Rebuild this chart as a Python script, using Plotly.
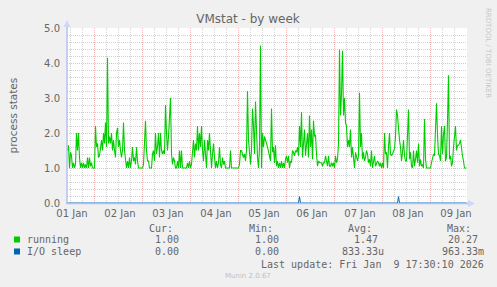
import pandas as pd
import plotly.graph_objects as go

# ---------------- data ----------------
running = [
    1.5, 1.65, 1.0, 1.45, 1.35, 1.0, 1.15, 1.0, 1.1, 2.0,
    1.5, 2.0, 1.3, 1.0, 1.15, 1.0, 1.15, 1.0, 1.1, 1.0,
    1.3, 1.0, 1.3, 1.05, 1.15, 1.0, 1.0, 1.0, 2.2, 1.6,
    1.7, 1.3, 1.35, 1.6, 1.8, 1.5, 2.0, 1.7, 2.3, 1.6,
    4.15, 1.7, 1.9, 1.7, 2.0, 1.5, 1.8, 1.5, 1.3, 2.0,
    2.15, 1.6, 1.8, 1.5, 1.3, 1.5, 2.3, 1.5, 1.3, 1.0,
    1.2, 1.0, 1.3, 1.0, 1.2, 1.6, 1.2, 1.3, 1.1, 1.6,
    1.2, 1.0, 1.0, 1.0, 1.0, 1.0, 1.1, 1.7, 2.35, 1.5,
    1.2, 1.2, 1.0, 1.0, 1.0, 1.4, 1.5, 1.2, 2.0, 1.4,
    1.6, 2.0, 1.3, 2.0, 1.5, 1.4, 1.5, 1.4, 2.8, 2.0,
    1.5, 1.9, 2.6, 3.0, 1.4, 1.1, 1.3, 1.2, 1.0, 1.0,
    1.2, 1.0, 1.5, 1.0, 1.5, 1.0, 1.0, 1.0, 1.0, 1.0,
    1.15, 1.0, 1.2, 1.0, 1.1, 1.6, 1.8, 1.3, 1.7, 1.5,
    2.2, 1.5, 2.0, 1.6, 2.2, 1.5, 1.2, 1.8, 1.4, 1.0,
    1.8, 1.5, 2.0, 1.3, 1.0, 1.4, 1.7, 1.3, 1.0, 1.2,
    1.0, 1.15, 1.6, 1.1, 1.0, 1.3, 1.1, 1.2, 1.0, 1.0,
    1.0, 1.0, 1.0, 1.5, 1.0, 1.0, 1.0, 1.0, 1.0, 1.0,
    1.0, 1.0, 1.1, 1.5, 1.5, 1.4, 1.3, 1.4, 1.2, 1.5,
    3.2, 1.8, 1.4, 1.1, 1.5, 2.7, 2.2, 1.4, 2.9, 1.7,
    1.3, 1.0, 1.6, 4.5, 1.0, 2.0, 1.6, 1.9, 1.75, 1.7,
    1.6, 1.45, 1.3, 1.2, 2.7, 1.45, 1.6, 1.15, 1.65, 1.05,
    1.2, 1.0, 1.15, 1.0, 1.2, 1.0, 1.15, 1.0, 1.25, 1.35,
    1.15, 1.35, 1.0, 1.2, 1.15, 1.5, 1.45, 1.35, 1.5, 1.45,
    1.6, 1.35, 2.2, 1.6, 2.6, 1.3, 1.7, 2.1, 1.35, 1.7,
    2.0, 1.3, 2.5, 1.6, 2.1, 1.25, 2.35, 1.9, 1.95, 1.4,
    1.05, 1.2, 1.15, 1.15, 1.15, 1.05, 1.15, 1.15, 1.35, 1.2,
    1.05, 1.35, 1.05, 1.05, 1.15, 1.05, 1.15, 1.0, 1.35, 1.15,
    1.25, 1.7, 4.38, 2.5, 3.1, 4.35, 2.5, 3.0, 2.3, 2.2,
    1.6, 1.8, 1.6, 2.1, 1.3, 1.6, 1.25, 1.0, 1.45, 1.35,
    1.2, 1.35, 3.15, 1.6, 2.0, 1.25, 1.45, 1.2, 1.3, 1.5,
    1.4, 1.15, 1.25, 1.05, 1.5, 1.0, 1.15, 1.35, 1.05, 1.15,
    1.2, 1.15, 1.05, 1.15, 1.0, 1.15, 1.0, 2.0, 1.4, 1.45,
    1.0, 1.6, 2.0, 1.4, 1.35, 1.4, 1.5, 1.55, 1.9, 2.67,
    2.5, 2.0, 1.8, 1.6, 1.2, 1.45, 1.8, 1.35, 1.2, 1.2,
    2.1, 2.67, 1.25, 1.45, 1.05, 1.0, 1.5, 1.05, 1.25, 1.5,
    1.15, 1.7, 1.05, 1.25, 1.05, 1.1, 1.0, 2.4, 1.25, 1.0,
    1.0, 1.0, 1.0, 1.0, 1.15, 1.25, 1.4, 1.35, 2.05, 2.85,
    1.95, 1.4, 1.35, 1.2, 2.2, 1.4, 1.95, 2.2, 1.2, 1.3,
    2.35, 3.65, 1.25, 1.35, 1.05, 1.15, 1.6, 2.05, 2.2, 1.5,
    1.65, 1.65, 1.7, 1.8, 1.45, 1.35, 1.2, 1.0, 1.0, 1.0,
]
io_sleep = [0.0] * 232 + [0.18] + [0.0] * 98 + [0.18] + [0.0] * 68

times = pd.date_range("2026-01-01 09:45", periods=len(running), freq="30min")
x_range = ["2026-01-01 09:30", "2026-01-09 17:30"]

day_labels = ["01 Jan", "02 Jan", "03 Jan", "04 Jan", "05 Jan",
              "06 Jan", "07 Jan", "08 Jan", "09 Jan"]
label_times = pd.date_range("2026-01-01 12:00", periods=9, freq="24h")
grid_times = pd.date_range("2026-01-01 23:00", periods=8, freq="24h")

series_names = ["running", "I/O sleep"]
series_colors = ["#00CC00", "#0066B3"]
cur_vals = ["1.00", "0.00"]
min_vals = ["1.00", "0.00"]
avg_vals = ["1.47", "833.33u"]
max_vals = ["20.27", "963.33m"]

# ---------------- layout geometry ----------------
W, H = 497, 287
L, T, PW, PH = 67, 28, 400, 175


def xp(px):
    return (px - L) / PW


def yp(py):
    return (T + PH - py) / PH


FONT = "DejaVu Sans"
MONO = "DejaVu Sans Mono"
TXT = "#666666"
AXC = "#B4C0EC"
MGRID = "#F0B8B8"
GRID = "#D2D2D2"

fig = go.Figure()
fig.add_trace(go.Scatter(x=times, y=running, mode="lines", name=series_names[0],
                         line=dict(color=series_colors[0], width=1.1), xaxis="x", yaxis="y",
                         hoverinfo="skip"))
fig.add_trace(go.Scatter(x=times, y=io_sleep, mode="lines", name=series_names[1],
                         line=dict(color=series_colors[1], width=1), xaxis="x2", yaxis="y",
                         hoverinfo="skip"))

fig.update_layout(
    width=W, height=H, autosize=False,
    margin=dict(l=L, r=W - L - PW, t=T, b=H - T - PH, pad=0),
    paper_bgcolor="#F0F0F0", plot_bgcolor="#FFFFFF",
    showlegend=False,
    title=dict(text="VMstat - by week", x=248 / W, xanchor="center",
               y=1 - 19 / H, yanchor="middle", font=dict(family=FONT, size=12, color=TXT)),
    xaxis=dict(type="date", range=x_range, tickvals=grid_times, showticklabels=False,
               ticks="", showgrid=True, gridcolor=MGRID, griddash="1px,1px", gridwidth=1,
               zeroline=False, showline=False,
               minor=dict(tick0="2026-01-01 05:00", dtick=6 * 3600 * 1000, showgrid=True,
                          gridcolor=GRID, griddash="1px,1px", gridwidth=1, ticks="")),
    xaxis2=dict(type="date", range=x_range, overlaying="x", anchor="y", side="bottom",
                tickvals=label_times, ticktext=day_labels, showgrid=False, zeroline=False,
                showline=False, ticks="", ticklabelstandoff=3,
                tickfont=dict(family=FONT, size=10, color=TXT)),
    yaxis=dict(range=[0, 5], tickvals=[0, 1, 2, 3, 4, 5], tickformat=".1f",
               showgrid=True, gridcolor=MGRID, griddash="1px,1px", gridwidth=1,
               zeroline=False, showline=False, ticks="", ticklabelstandoff=6,
               tickfont=dict(family=FONT, size=10, color=TXT),
               minor=dict(dtick=0.2, showgrid=True, gridcolor=GRID,
                          griddash="1px,1px", gridwidth=1, ticks="")),
)

shapes = [
    # axes with arrows
    dict(type="line", xref="paper", yref="paper", x0=xp(67), x1=xp(67), y0=yp(203.5), y1=yp(24),
         line=dict(color=AXC, width=1.5), layer="above"),
    dict(type="path", xref="paper", yref="paper",
         path=f"M {xp(63.5)} {yp(27)} L {xp(67)} {yp(20)} L {xp(70.5)} {yp(27)} Z",
         fillcolor="#CFD6F8", line=dict(width=0), layer="above"),
    dict(type="line", xref="paper", yref="paper", x0=xp(66), x1=xp(470), y0=yp(203.5), y1=yp(203.5),
         line=dict(color=AXC, width=1.5), layer="above"),
    dict(type="path", xref="paper", yref="paper",
         path=f"M {xp(468)} {yp(200)} L {xp(475)} {yp(203.5)} L {xp(468)} {yp(207)} Z",
         fillcolor="#CFD6F8", line=dict(width=0), layer="above"),
]

annotations = []


def txt(text, px, py, anchor="left", size=10, family=MONO, color=TXT, angle=0):
    annotations.append(dict(text=text, xref="paper", yref="paper", x=xp(px), y=yp(py),
                            xanchor=anchor, yanchor="middle", showarrow=False,
                            borderpad=0, borderwidth=0, textangle=angle,
                            font=dict(family=family, size=size, color=color)))


# y axis title and side texts
txt("process states", 12, 115.5, anchor="center", size=10.5, family=FONT, angle=-90)
txt("RRDTOOL / TOBI OETIKER", 488, 53, anchor="center", size=7, family=FONT,
    color="#C8C8C8", angle=90)

# legend table
row_y = [239.5, 251.5]
txt("Cur:", 148.5, 228)
txt("Min:", 248.5, 228)
txt("Avg:", 347.5, 228)
txt("Max:", 446.5, 228)
for k in range(2):
    shapes.append(dict(type="rect", xref="paper", yref="paper", x0=xp(14), x1=xp(20),
                       y0=yp(row_y[k] - 3), y1=yp(row_y[k] + 3),
                       fillcolor=series_colors[k], line=dict(width=0)))
    txt(series_names[k], 26.5, row_y[k])
    txt(cur_vals[k], 178.8, row_y[k], anchor="right")
    txt(min_vals[k], 278.8, row_y[k], anchor="right")
    txt(avg_vals[k], 384.3 - (6.02 if k == 0 else 0), row_y[k], anchor="right")
    txt(max_vals[k], 484.3 - (6.02 if k == 0 else 0), row_y[k], anchor="right")

txt("Last update: Fri Jan\u00a0\u00a09 17:30:10 2026", 484.3, 264, anchor="right")
txt("Munin 2.0.67", 248, 276, anchor="center", size=7, family=FONT, color="#C0C0C0")

fig.update_layout(shapes=shapes, annotations=annotations)
fig.write_html("out.html")
